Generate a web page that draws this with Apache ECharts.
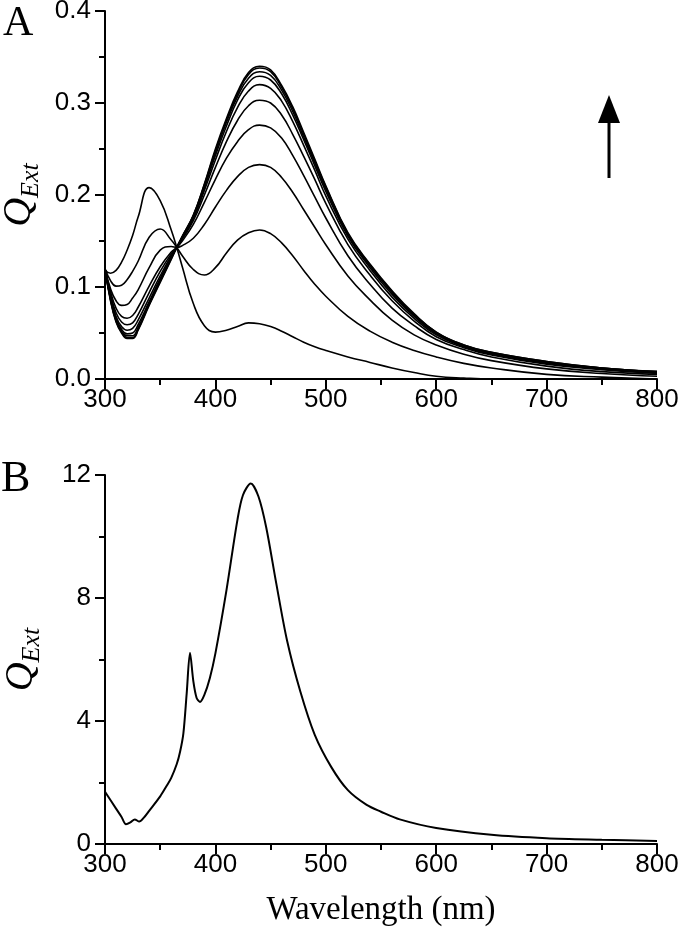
<!DOCTYPE html>
<html>
<head>
<meta charset="utf-8">
<script src="https://cdn.jsdelivr.net/npm/echarts@6.0.0/dist/echarts.min.js"></script>
<style>
  html, body { margin: 0; padding: 0; background: #fff; }
  #chart { width: 680px; height: 931px; }
</style>
</head>
<body>
<div id="chart"></div>
<script>
// panel A: wavelength grid shared by all spectra
const wlA = [300, 305, 310, 315, 320, 325, 330, 340, 350, 360, 365, 370, 380, 390, 400, 410, 420,
  430, 440, 450, 460, 470, 480, 490, 500, 520, 540, 560, 580, 600, 625, 650, 700, 750, 800];

// spectra, first (lowest peak at 440) to last
const specA1 = [0.118, 0.115, 0.118, 0.127, 0.140, 0.156, 0.176, 0.208, 0.194, 0.162, 0.143, 0.122, 0.082, 0.058, 0.051, 0.053, 0.057,
  0.061, 0.060, 0.057, 0.052, 0.046, 0.040, 0.035, 0.031, 0.024, 0.018, 0.012, 0.007, 0.003, 0.001, 0.000, 0.000, 0.000, 0.000];
const specA2 = [0.120, 0.107, 0.101, 0.102, 0.108, 0.117, 0.128, 0.154, 0.163, 0.151, 0.143, 0.134, 0.119, 0.113, 0.121, 0.137, 0.151,
  0.159, 0.162, 0.158, 0.148, 0.134, 0.118, 0.103, 0.090, 0.068, 0.052, 0.040, 0.031, 0.024, 0.017, 0.012, 0.005, 0.002, 0.000];
const specA3 = [0.120, 0.098, 0.085, 0.080, 0.081, 0.088, 0.097, 0.121, 0.140, 0.144, 0.143, 0.145, 0.153, 0.168, 0.187, 0.205, 0.220,
  0.230, 0.233, 0.230, 0.219, 0.203, 0.184, 0.165, 0.146, 0.112, 0.086, 0.064, 0.048, 0.037, 0.027, 0.020, 0.011, 0.006, 0.003];
const specA4 = [0.120, 0.095, 0.077, 0.068, 0.066, 0.069, 0.078, 0.101, 0.122, 0.138, 0.143, 0.150, 0.168, 0.192, 0.217, 0.240, 0.258,
  0.271, 0.276, 0.273, 0.262, 0.243, 0.221, 0.198, 0.175, 0.134, 0.103, 0.077, 0.058, 0.043, 0.032, 0.024, 0.014, 0.008, 0.005];
const specA5 = [0.120, 0.092, 0.072, 0.062, 0.059, 0.061, 0.070, 0.094, 0.117, 0.136, 0.143, 0.152, 0.172, 0.200, 0.230, 0.258, 0.281,
  0.297, 0.303, 0.300, 0.287, 0.266, 0.242, 0.217, 0.191, 0.146, 0.113, 0.085, 0.063, 0.046, 0.034, 0.026, 0.016, 0.010, 0.006];
const specA6 = [0.120, 0.090, 0.068, 0.057, 0.053, 0.055, 0.064, 0.088, 0.112, 0.134, 0.143, 0.153, 0.174, 0.205, 0.238, 0.269, 0.295,
  0.313, 0.320, 0.316, 0.302, 0.280, 0.254, 0.227, 0.199, 0.152, 0.118, 0.089, 0.066, 0.048, 0.035, 0.027, 0.017, 0.011, 0.007];
const specA7 = [0.120, 0.088, 0.066, 0.054, 0.049, 0.050, 0.059, 0.084, 0.109, 0.132, 0.143, 0.154, 0.176, 0.208, 0.243, 0.275, 0.303,
  0.322, 0.329, 0.325, 0.310, 0.287, 0.260, 0.232, 0.204, 0.155, 0.121, 0.092, 0.068, 0.049, 0.036, 0.028, 0.018, 0.011, 0.007];
const specA8 = [0.120, 0.087, 0.064, 0.052, 0.047, 0.047, 0.056, 0.082, 0.107, 0.131, 0.143, 0.154, 0.177, 0.210, 0.246, 0.279, 0.307,
  0.327, 0.334, 0.330, 0.314, 0.291, 0.263, 0.235, 0.207, 0.157, 0.123, 0.094, 0.069, 0.050, 0.036, 0.028, 0.018, 0.012, 0.008];
const specA9 = [0.120, 0.086, 0.063, 0.051, 0.045, 0.045, 0.054, 0.081, 0.106, 0.131, 0.143, 0.155, 0.178, 0.211, 0.248, 0.281, 0.310,
  0.331, 0.338, 0.334, 0.317, 0.294, 0.266, 0.237, 0.209, 0.158, 0.124, 0.095, 0.070, 0.051, 0.037, 0.029, 0.019, 0.012, 0.008];
const specA10 = [0.120, 0.085, 0.062, 0.050, 0.044, 0.044, 0.053, 0.080, 0.105, 0.130, 0.143, 0.155, 0.178, 0.212, 0.250, 0.283, 0.312,
  0.333, 0.340, 0.336, 0.319, 0.296, 0.268, 0.239, 0.210, 0.159, 0.125, 0.096, 0.071, 0.051, 0.037, 0.029, 0.019, 0.012, 0.008];

// panel B: single calculated spectrum
const wlB = [300, 310, 315, 319, 323, 327, 331, 335, 340, 350, 356, 360, 365, 368, 371, 374, 377, 380, 383, 386, 390, 395,
  400, 410, 420, 425, 432, 439, 446, 455, 465, 477, 490, 505, 520, 537, 550, 567, 600, 650, 700, 750, 800];
const specB = [1.70, 1.15, 0.88, 0.64, 0.70, 0.80, 0.73, 0.85, 1.08, 1.55, 1.90, 2.15, 2.60, 3.00, 3.60, 4.90, 6.22, 5.30, 4.75, 4.62, 4.85, 5.40,
  6.20, 8.25, 10.55, 11.35, 11.72, 11.30, 10.30, 8.50, 6.60, 4.95, 3.55, 2.50, 1.75, 1.27, 1.05, 0.80, 0.52, 0.30, 0.19, 0.14, 0.10];

const spectraA = [specA1, specA2, specA3, specA4, specA5, specA6, specA7, specA8, specA9, specA10];

const SANS = '"Liberation Sans", Arial, sans-serif';
const SERIF = '"Liberation Serif", "Times New Roman", serif';

const axisCommon = {
  axisLine: { lineStyle: { color: '#000', width: 2 } },
  axisTick: { inside: false, length: 10, lineStyle: { color: '#000', width: 2 } },
  minorTick: { show: true, splitNumber: 2, length: 6, lineStyle: { color: '#000', width: 2 } },
  splitLine: { show: false },
  minorSplitLine: { show: false },
  axisLabel: { color: '#000', fontFamily: SANS, fontSize: 26 }
};

const qName = {
  name: '{q|Q}{s|Ext}',
  nameLocation: 'middle',
  nameGap: 60,
  nameTextStyle: {
    rich: {
      q: { fontFamily: SERIF, fontStyle: 'italic', fontSize: 40, color: '#000', verticalAlign: 'top' },
      s: { fontFamily: SERIF, fontStyle: 'italic', fontSize: 26, color: '#000', verticalAlign: 'top', padding: [18, 0, 0, 0] }
    }
  }
};

const chart = echarts.init(document.getElementById('chart'));

const option = {
  animation: false,
  backgroundColor: '#fff',
  grid: [
    { left: 105, top: 11, width: 552, height: 368, outerBoundsMode: 'none', containLabel: false },
    { left: 105, top: 475, width: 552, height: 369, outerBoundsMode: 'none', containLabel: false }
  ],
  xAxis: [
    {
      ...axisCommon, type: 'value', gridIndex: 0, min: 300, max: 800, interval: 100,
      axisLabel: { ...axisCommon.axisLabel, margin: 8 }
    },
    {
      ...axisCommon, type: 'value', gridIndex: 1, min: 300, max: 800, interval: 100,
      axisLabel: { ...axisCommon.axisLabel, margin: 8 },
      name: 'Wavelength (nm)', nameLocation: 'middle', nameGap: 50,
      nameTextStyle: { fontFamily: SERIF, fontSize: 33, color: '#000' }
    }
  ],
  yAxis: [
    {
      ...axisCommon, ...qName, type: 'value', gridIndex: 0, min: 0, max: 0.4, interval: 0.1,
      axisLabel: { ...axisCommon.axisLabel, margin: 14, formatter: (v) => v.toFixed(1) }
    },
    {
      ...axisCommon, ...qName, type: 'value', gridIndex: 1, min: 0, max: 12, interval: 4,
      axisLabel: { ...axisCommon.axisLabel, margin: 14 }
    }
  ],
  series: [
    ...spectraA.map((s, i) => ({
      name: 'A' + (i + 1),
      type: 'line',
      xAxisIndex: 0,
      yAxisIndex: 0,
      data: wlA.map((w, j) => [w, s[j]]),
      showSymbol: false,
      smooth: 0.45,
      lineStyle: { color: '#000', width: 1.6 }
    })),
    {
      name: 'B',
      type: 'line',
      xAxisIndex: 1,
      yAxisIndex: 1,
      data: wlB.map((w, j) => [w, specB[j]]),
      showSymbol: false,
      smooth: 0.3,
      lineStyle: { color: '#000', width: 2 }
    }
  ],
  graphic: [
    { type: 'text', left: 3, top: 3, style: { text: 'A', font: '42px ' + SERIF, fill: '#000' } },
    { type: 'text', left: 1, top: 457, style: { text: 'B', font: '44px ' + SERIF, fill: '#000' } },
    // trend arrow
    { type: 'line', shape: { x1: 609, y1: 178, x2: 609, y2: 118 }, style: { stroke: '#000', lineWidth: 3 } },
    { type: 'polygon', shape: { points: [[598, 123], [620, 123], [609, 95]] }, style: { fill: '#000' } }
  ]
};

chart.setOption(option);
</script>
</body>
</html>
